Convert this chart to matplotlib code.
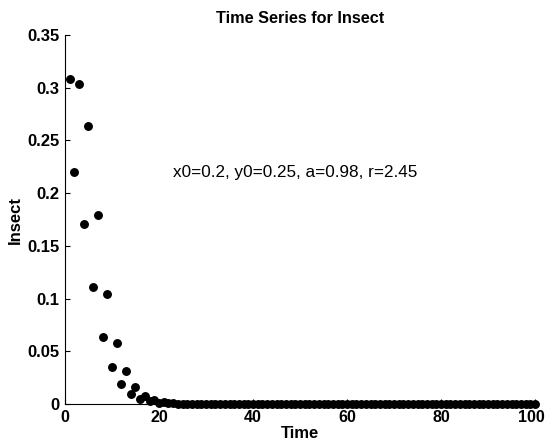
import numpy as np
import matplotlib
matplotlib.use("Agg")
import matplotlib.pyplot as plt
import matplotlib.transforms as mtransforms

plt.rcParams['font.family'] = ['Liberation Sans', 'DejaVu Sans']

time = list(range(1, 101))
insect_head = [0.308, 0.220, 0.304, 0.171, 0.264, 0.111, 0.179, 0.064, 0.104, 0.035,
               0.058, 0.0187, 0.031, 0.0095, 0.016, 0.005, 0.008, 0.0025, 0.004, 0.0012,
               0.002, 0.0006, 0.001, 0.0003, 0.0005, 0.0001, 0.0002]
insect = insect_head + [0.0] * (100 - len(insect_head))

fig = plt.figure(figsize=(5.46, 4.46), dpi=100)
ax = fig.add_axes([0.119, 0.094, 0.861, 0.8275])
ax.plot(time, insect, 'o', color='black', markersize=5.4, linestyle='none', clip_on=False)
ax.set_xlim(0, 100)
ax.set_ylim(0, 0.35)
ax.set_xticks([0, 20, 40, 60, 80, 100])
ax.set_yticks([0, 0.05, 0.1, 0.15, 0.2, 0.25, 0.3, 0.35])
ax.set_yticklabels(['0', '0.05', '0.1', '0.15', '0.2', '0.25', '0.3', '0.35'])
ax.spines['top'].set_visible(False)
ax.spines['right'].set_visible(False)
ax.tick_params(direction='in', length=3.5, labelsize=12, pad=4)
ax.tick_params(axis='x', labelsize=11.5)
for lbl in ax.get_xticklabels() + ax.get_yticklabels():
    lbl.set_fontweight('bold')
last = ax.get_xticklabels()[-1]
last.set_transform(last.get_transform() + mtransforms.ScaledTranslation(-4 / 100, 0, fig.dpi_scale_trans))
ax.set_xlabel('Time', fontsize=12, fontweight='bold', labelpad=1)
ax.set_ylabel('Insect', fontsize=12, fontweight='bold', labelpad=3)
ax.set_title('Time Series for Insect', fontsize=11.7, fontweight='bold', pad=9)
ax.text(23.0, 0.22, 'x0=0.2, y0=0.25, a=0.98, r=2.45', fontsize=12.3, va='center', ha='left')
fig.savefig('out.png', dpi=100)
